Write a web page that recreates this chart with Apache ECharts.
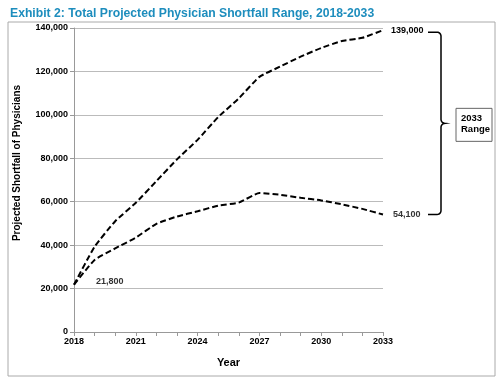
<!DOCTYPE html>
<html><head><meta charset="utf-8">
<script src="https://cdn.jsdelivr.net/npm/echarts@6/dist/echarts.min.js"></script>
<style>html,body{margin:0;padding:0;background:#fff}#c{width:499px;height:384px}</style>
</head><body><div id="c"></div>
<script>
const years = [2018,2019,2020,2021,2022,2023,2024,2025,2026,2027,2028,2029,2030,2031,2032,2033];
const highSeries = [21800,39300,51000,59500,69500,79500,88500,99000,107600,117500,122200,126800,130800,134000,135500,139000];
const lowSeries  = [21800,33200,38500,43500,49800,53200,55600,58200,59600,64000,63200,61800,60600,58800,56700,54100];
const xTickLabels = [2018,2021,2024,2027,2030,2033];
const yTicks = [0,20000,40000,60000,80000,100000,120000,140000];
const titleText = 'Exhibit 2: Total Projected Physician Shortfall Range, 2018-2033';
const yAxisTitle = 'Projected Shortfall of Physicians';
const rangeLabel = '2033\nRange';

const fmt = v => v.toLocaleString('en-US');
const chart = echarts.init(document.getElementById('c'));
const F = 'Liberation Sans, Arial, sans-serif';
const lineStyle = {color:'#000', width:2, type:[6,3]};
chart.setOption({
  animation:false,
  title:{text:titleText, left:5, top:3, textStyle:{color:'#1d8dbd', fontSize:12.2, fontWeight:'bold', fontFamily:F}},
  grid:{left:74, right:116, top:28, bottom:52},
  xAxis:{type:'value', min:2018, max:2033, interval:1,
    name:'Year', nameLocation:'middle', nameGap:25,
    nameTextStyle:{fontFamily:F, fontWeight:'bold', fontSize:11, color:'#000'},
    axisLine:{lineStyle:{color:'#999'}},
    axisTick:{show:true, length:4, lineStyle:{color:'#999'}},
    splitLine:{show:false},
    axisLabel:{fontFamily:F, fontWeight:'bold', fontSize:9, color:'#000', margin:5,
      formatter:v=> xTickLabels.indexOf(v)>=0 ? String(v) : ''}
  },
  yAxis:{type:'value', min:0, max:140000, interval:20000,
    axisLine:{show:true, lineStyle:{color:'#999'}},
    axisTick:{show:true, length:4, lineStyle:{color:'#999'}},
    splitLine:{lineStyle:{color:'#bbb'}},
    axisLabel:{fontFamily:F, fontWeight:'bold', fontSize:9, color:'#000', margin:6,
      formatter:v=> yTicks.indexOf(v)>=0 ? fmt(v) : ''}
  },
  series:[
    {type:'line', name:'High', data:years.map((y,i)=>[y,highSeries[i]]), symbol:'none', smooth:0.15, lineStyle:lineStyle,
     endLabel:{show:true, formatter:p=>fmt(p.value[1]), fontFamily:F, fontWeight:'bold', fontSize:9, color:'#000', distance:8}},
    {type:'line', name:'Low', data:years.map((y,i)=>[y,lowSeries[i]]), symbol:'none', smooth:0.15, lineStyle:lineStyle,
     endLabel:{show:true, formatter:p=>fmt(p.value[1]), fontFamily:F, fontWeight:'bold', fontSize:9, color:'#333', distance:10},
     markPoint:{symbol:'circle', symbolSize:0, data:[{coord:[years[0], lowSeries[0]], value:lowSeries[0],
       label:{show:true, formatter:fmt(lowSeries[0]), position:'right', offset:[17,-3], fontFamily:F, fontWeight:'bold', fontSize:9, color:'#333'}}]}}
  ]
});

// brace & box positioned from data values
const pTop = chart.convertToPixel({gridIndex:0}, [2033, highSeries[highSeries.length-1]]);
const pBot = chart.convertToPixel({gridIndex:0}, [2033, lowSeries[lowSeries.length-1]]);
const bx0 = pTop[0]+45, bx1 = pTop[0]+58, yT = pTop[1]+2, yB = pBot[1], yM = (yT+yB)/2;
function arcPts(cx, cy, r, a0, a1, n){const o=[];for(let i=0;i<=n;i++){const a=a0+(a1-a0)*i/n;o.push([cx+r*Math.cos(a), cy+r*Math.sin(a)]);}return o;}
const r = 4;
const brace = [[bx0,yT]]
  .concat(arcPts(bx1-r, yT+r, r, -Math.PI/2, 0, 6))
  .concat(arcPts(bx1+r, yM-r, r, Math.PI, Math.PI/2, 6))
  .concat(arcPts(bx1+r, yM+r, r, -Math.PI/2, -Math.PI, 6))
  .concat(arcPts(bx1-r, yB-r, r, 0, Math.PI/2, 6))
  .concat([[bx0,yB]]);
const cy = yM;
chart.setOption({graphic:[
  {type:'rect', shape:{x:8, y:22, width:487, height:354}, style:{fill:'none', stroke:'#aaa', lineWidth:1}, silent:true, z:-1},
  {type:'polyline', shape:{points:brace}, style:{fill:null, stroke:'#000', lineWidth:1.5}},
  {type:'text', x:17, y:163, rotation:Math.PI/2, style:{text:yAxisTitle, fontFamily:F, fontWeight:'bold', fontSize:10, fill:'#000', textAlign:'center', textVerticalAlign:'middle'}},
  {type:'rect', shape:{x:456, y:cy-15, width:36, height:33}, style:{fill:'#fff', stroke:'#666', lineWidth:1}},
  {type:'text', x:461, y:cy-10, style:{text:rangeLabel, fontFamily:F, fontWeight:'bold', fontSize:9.5, fill:'#000', lineHeight:11}}
]});
</script></body></html>
